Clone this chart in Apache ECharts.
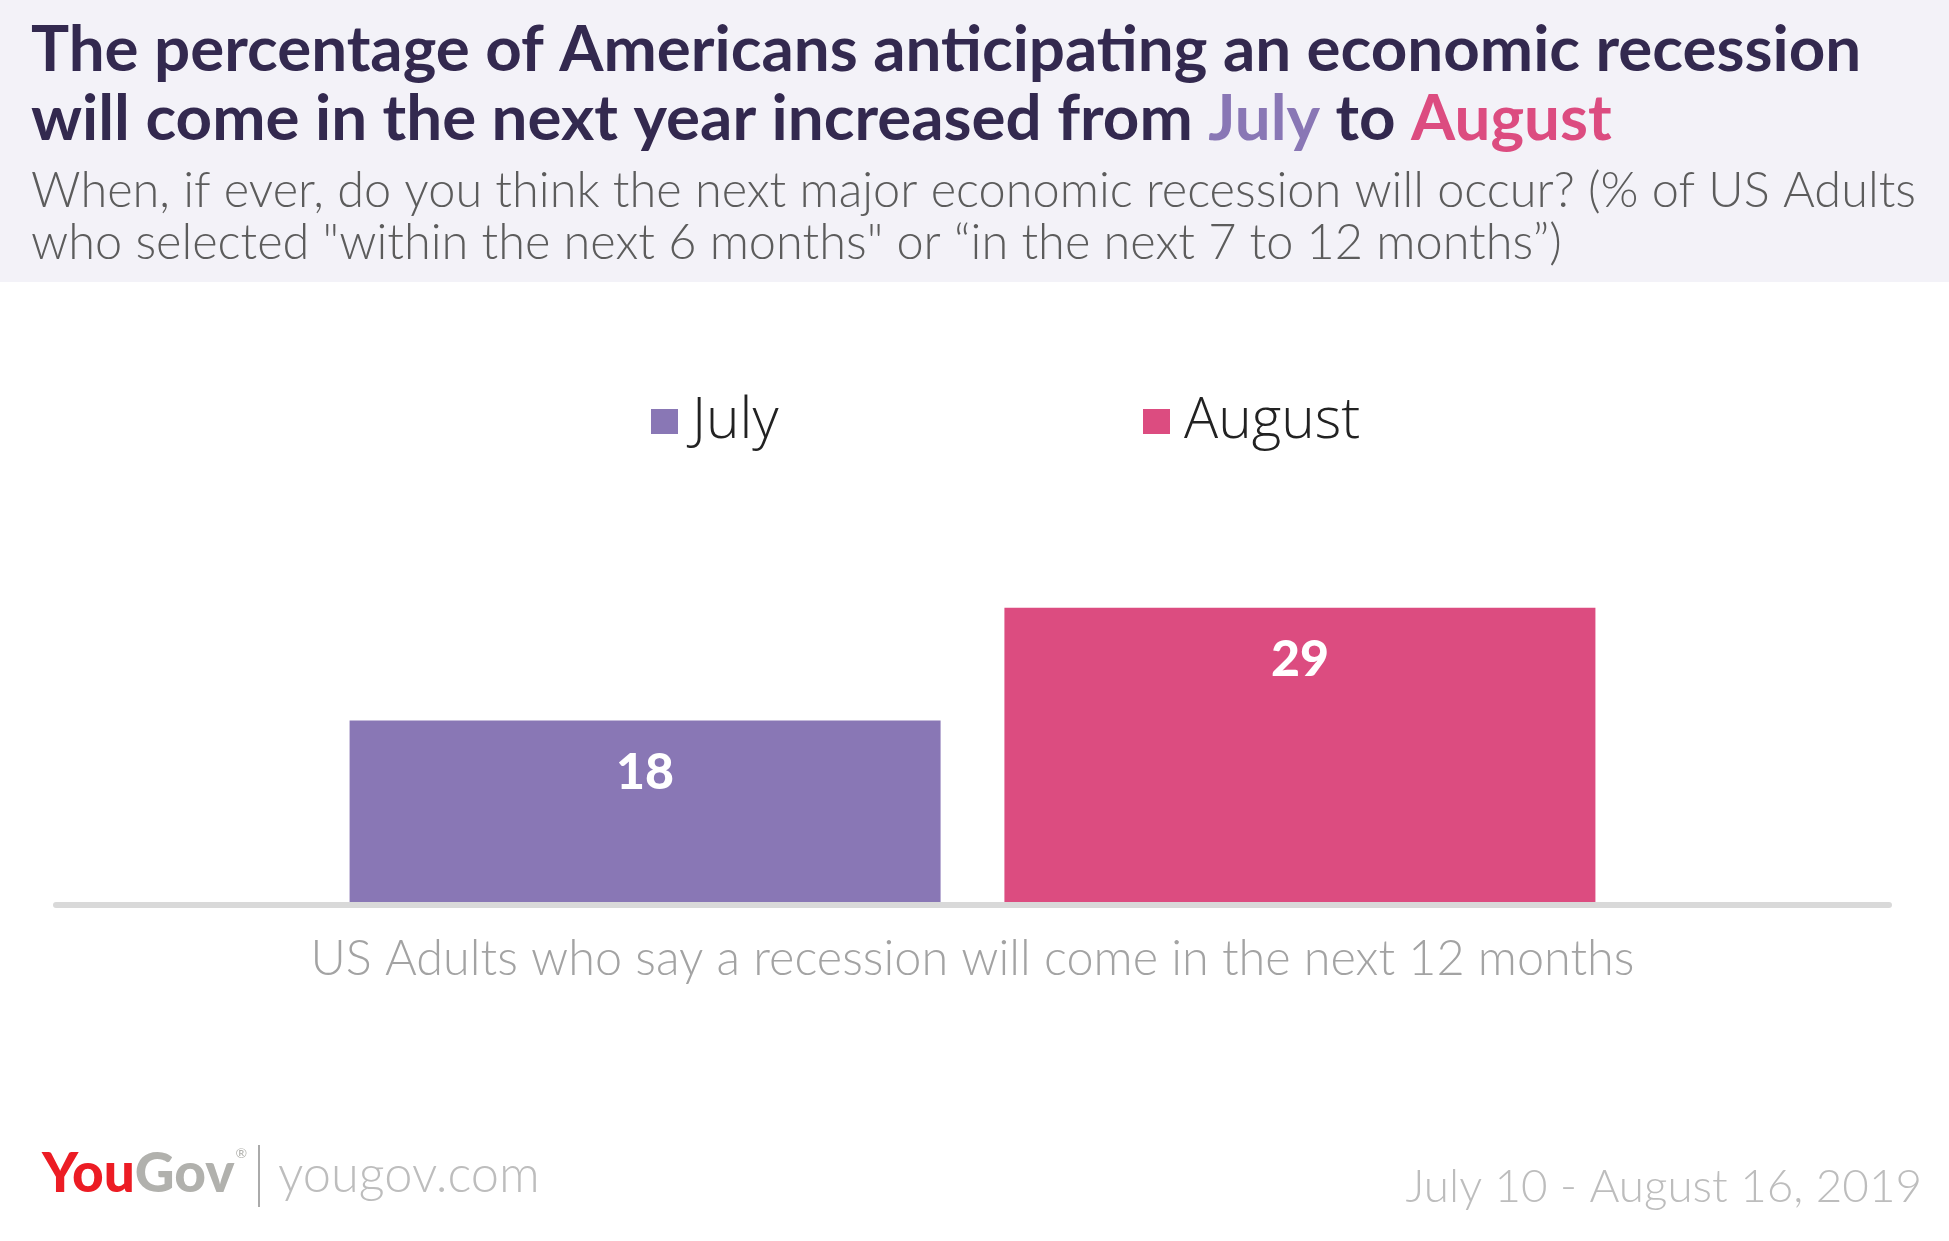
<!DOCTYPE html>
<html>
<head>
<meta charset="utf-8">
<script src="https://cdn.jsdelivr.net/npm/echarts@6/dist/echarts.min.js"></script>
<style>
html,body{margin:0;padding:0;background:#fff;}
#chart{width:1949px;height:1241px;}
</style>
</head>
<body>
<div id="chart"></div>
<script>
// ---- data ----
const categories = ['US Adults who say a recession will come in the next 12 months'];
const seriesNames = ['July', 'August'];
const julyValues = [18];
const augustValues = [29];
const titleLine1 = 'The percentage of Americans anticipating an economic recession';
const titleLine2Parts = ['will come in the next year increased from ', 'July', ' to ', 'August'];
const subtitleLines = [
  'When, if ever, do you think the next major economic recession will occur? (% of US Adults',
  'who selected "within the next 6 months" or \u201Cin the next 7 to 12 months\u201D)'
];
const dateText = 'July 10 - August 16, 2019';
const siteText = 'yougov.com';

// ---- helpers ----
const ctx = document.createElement('canvas').getContext('2d');
function measure(text, weight, size, family) {
  ctx.font = weight + ' ' + size + 'px ' + family;
  return ctx.measureText(text).width;
}
function fit(text, weight, family, target) {
  const base = 100;
  return Math.round(base * target / measure(text, weight, base, family) * 10) / 10;
}

const TITLE_FONT = 'Lato';
const BODY_FONT = 'Lato';
const C_TITLE = '#33294f';
const C_JULY = '#8977b5';
const C_AUG = '#dc4c80';

const titleSize = fit(titleLine1, 'bold', TITLE_FONT, 1830);
const subSize = (fit(subtitleLines[0], '300', BODY_FONT, 1893) + fit(subtitleLines[1], '300', BODY_FONT, 1524)) / 2;
const catSize = fit(categories[0], '300', BODY_FONT, 1325);
const dateSize = fit(dateText, '300', BODY_FONT, 516);
const siteSize = fit(siteText, '300', BODY_FONT, 262);
const legSize = (fit('July', '300', 'Open Sans', 93) + fit('August', '300', 'Open Sans', 163)) / 2;
const logoSize = fit('YouGov', '900', 'Lato', 192);

const chart = echarts.init(document.getElementById('chart'), null, {renderer: 'canvas'});

const legendText = {fontFamily: 'Open Sans', fontWeight: 300, fontSize: legSize, color: '#222', lineHeight: 50, padding: [0, 0, 0, 9]};

const option = {
  backgroundColor: '#ffffff',
  animation: false,
  grid: {left: 56, right: 60, top: 392.5, bottom: 336, containLabel: false},
  legend: [
    {data: [seriesNames[0]], left: 651, top: 393, padding: 0, icon: 'rect', itemWidth: 27, itemHeight: 25, textStyle: legendText},
    {data: [seriesNames[1]], left: 1143, top: 393, padding: 0, icon: 'rect', itemWidth: 27, itemHeight: 25, textStyle: legendText}
  ],
  xAxis: {
    type: 'category',
    data: categories,
    offset: 3,
    z: 3,
    axisLine: {show: true, lineStyle: {color: '#d9d9d9', width: 6}},
    axisTick: {show: false},
    axisLabel: {fontFamily: BODY_FONT, fontWeight: 300, fontSize: catSize, color: '#a3a3a3', margin: 27}
  },
  yAxis: {type: 'value', min: 0, max: 50, show: false, splitLine: {show: false}},
  series: [
    {name: seriesNames[0], type: 'bar', data: julyValues, barWidth: 591, barGap: '10.8%',
     itemStyle: {color: C_JULY},
     label: {show: true, position: 'insideTop', distance: 27, color: '#fff', fontFamily: 'Lato', fontWeight: 900, fontSize: 50, lineHeight: 50}},
    {name: seriesNames[1], type: 'bar', data: augustValues, barWidth: 591, barGap: '10.8%',
     itemStyle: {color: C_AUG},
     label: {show: true, position: 'insideTop', distance: 27, color: '#fff', fontFamily: 'Lato', fontWeight: 900, fontSize: 50, lineHeight: 50}}
  ],
  graphic: [
    {type: 'rect', left: 0, top: 0, z: -10, shape: {width: 1949, height: 282}, style: {fill: '#f3f2f8'}},
    {type: 'text', x: 31, y: 50, style: {text: titleLine1, font: 'bold ' + titleSize + 'px ' + TITLE_FONT, fill: C_TITLE, verticalAlign: 'middle'}},
    {type: 'text', x: 31, y: 119, style: {
      text: titleLine2Parts[0] + '{j|' + titleLine2Parts[1] + '}' + titleLine2Parts[2] + '{a|' + titleLine2Parts[3] + '}',
      font: 'bold ' + titleSize + 'px ' + TITLE_FONT, fill: C_TITLE, verticalAlign: 'middle',
      rich: {
        j: {fill: C_JULY, font: 'bold ' + titleSize + 'px ' + TITLE_FONT},
        a: {fill: C_AUG, font: 'bold ' + titleSize + 'px ' + TITLE_FONT}
      }}},
    {type: 'text', x: 31, y: 191, style: {text: subtitleLines[0], font: '300 ' + subSize + 'px ' + BODY_FONT, fill: '#5c5c5c', verticalAlign: 'middle'}},
    {type: 'text', x: 31, y: 243, style: {text: subtitleLines[1], font: '300 ' + subSize + 'px ' + BODY_FONT, fill: '#5c5c5c', verticalAlign: 'middle'}},
    // footer logo
    {type: 'text', x: 42, y: 1174, style: {
      text: '{r|You}{g|Gov}{s|\u00AE}', verticalAlign: 'middle',
      rich: {
        r: {fill: '#ec1c24', font: '900 ' + logoSize + 'px Lato'},
        g: {fill: '#b1b1ad', font: '900 ' + logoSize + 'px Lato'},
        s: {fill: '#b1b1ad', font: '400 14px Lato', verticalAlign: 'top', padding: [0,0,30,1]}
      }}},
    {type: 'line', shape: {x1: 259, y1: 1145, x2: 259, y2: 1207}, style: {stroke: '#aaaaaa', lineWidth: 2}},
    {type: 'text', x: 278, y: 1176, style: {text: siteText, font: '300 ' + siteSize + 'px ' + BODY_FONT, fill: '#bdbdbd', verticalAlign: 'middle'}},
    {type: 'text', x: 1922, y: 1187, style: {text: dateText, font: '300 ' + dateSize + 'px ' + BODY_FONT, fill: '#bdbdbd', align: 'right', verticalAlign: 'middle'}}
  ]
};
chart.setOption(option);
</script>
</body>
</html>
